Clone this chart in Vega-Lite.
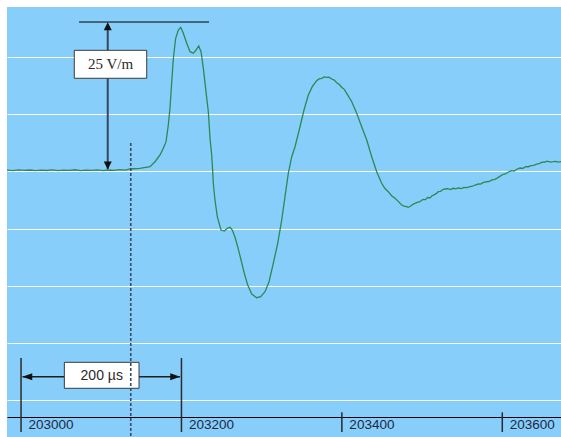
{
  "$schema": "https://vega.github.io/schema/vega-lite/v6.json",
  "autosize": "none",
  "width": 554,
  "height": 430,
  "padding": {"left": 7, "top": 7, "right": 0, "bottom": 0},
  "background": "white",
  "config": {"view": {"stroke": null, "fill": "#87CEFA"}},
  "datasets": {
    "curve": [
      {"t": 202982.5, "E": 0.2}, {"t": 202990, "E": 0.12}, {"t": 202997, "E": 0.25}, {"t": 203004, "E": 0.15},
      {"t": 203011, "E": 0.22}, {"t": 203018, "E": 0.1}, {"t": 203025, "E": 0.2}, {"t": 203032, "E": 0.14},
      {"t": 203039, "E": 0.24}, {"t": 203046, "E": 0.12}, {"t": 203053, "E": 0.2}, {"t": 203060, "E": 0.16},
      {"t": 203067, "E": 0.26}, {"t": 203074, "E": 0.13}, {"t": 203081, "E": 0.21}, {"t": 203088, "E": 0.15},
      {"t": 203095, "E": 0.24}, {"t": 203102, "E": 0.12}, {"t": 203109, "E": 0.22}, {"t": 203116, "E": 0.17},
      {"t": 203123, "E": 0.27}, {"t": 203130, "E": 0.2},
      {"t": 203135.9, "E": 0.39}, {"t": 203148, "E": 0.5}, {"t": 203160.8, "E": 0.77}, {"t": 203167.0, "E": 1.61},
      {"t": 203173.3, "E": 2.74}, {"t": 203177.4, "E": 3.86}, {"t": 203180.8, "E": 4.97}, {"t": 203183.6, "E": 7.77},
      {"t": 203185.7, "E": 10.57}, {"t": 203187.9, "E": 15.03}, {"t": 203189.9, "E": 18.96}, {"t": 203192.8, "E": 22.32},
      {"t": 203196.1, "E": 23.71}, {"t": 203199.1, "E": 24.16}, {"t": 203202.3, "E": 23.16}, {"t": 203206.6, "E": 21.48},
      {"t": 203210.7, "E": 20.07}, {"t": 203214.8, "E": 19.8}, {"t": 203218.2, "E": 20.35}, {"t": 203221.5, "E": 21.03},
      {"t": 203224.4, "E": 20.07}, {"t": 203227.3, "E": 17.28}, {"t": 203230.6, "E": 13.36}, {"t": 203233.5, "E": 10.0},
      {"t": 203235.6, "E": 5.54}, {"t": 203237.7, "E": 2.74}, {"t": 203239.0, "E": -0.07}, {"t": 203239.7, "E": -2.01},
      {"t": 203241.8, "E": -4.82}, {"t": 203244.7, "E": -7.62}, {"t": 203249.3, "E": -9.85}, {"t": 203253.4, "E": -10.02},
      {"t": 203257.2, "E": -9.56}, {"t": 203260.5, "E": -9.4}, {"t": 203263.4, "E": -9.85}, {"t": 203266.8, "E": -11.07},
      {"t": 203270.1, "E": -12.65}, {"t": 203274.3, "E": -14.88}, {"t": 203278.4, "E": -17.12}, {"t": 203282.6, "E": -19.08},
      {"t": 203287.6, "E": -20.59}, {"t": 203293.8, "E": -21.21}, {"t": 203298.8, "E": -21.04}, {"t": 203304.2, "E": -20.2},
      {"t": 203309.2, "E": -18.52}, {"t": 203314.5, "E": -15.44}, {"t": 203320.0, "E": -12.08}, {"t": 203325.0, "E": -8.17},
      {"t": 203329.1, "E": -4.26}, {"t": 203333.2, "E": -0.34}, {"t": 203337.5, "E": 2.45}, {"t": 203341.6, "E": 4.13},
      {"t": 203347.8, "E": 7.48}, {"t": 203352.8, "E": 10.29}, {"t": 203358.2, "E": 12.8}, {"t": 203363.1, "E": 14.2},
      {"t": 203368.6, "E": 15.2}, {"t": 203371.5, "E": 15.5}, {"t": 203374.9, "E": 15.61}, {"t": 203378, "E": 15.85}, {"t": 203381.1, "E": 15.77},
      {"t": 203384, "E": 15.8}, {"t": 203387.3, "E": 15.49}, {"t": 203390.5, "E": 15.3},
      {"t": 203393.6, "E": 14.87}, {"t": 203396.5, "E": 14.6}, {"t": 203399.8, "E": 14.1}, {"t": 203403, "E": 13.75}, {"t": 203406.0, "E": 13.09}, {"t": 203412.3, "E": 11.68},
      {"t": 203418.5, "E": 9.73}, {"t": 203424.7, "E": 7.48}, {"t": 203431.0, "E": 5.25}, {"t": 203437.2, "E": 2.45},
      {"t": 203443.4, "E": -0.07}, {"t": 203449.6, "E": -2.01}, {"t": 203453.5, "E": -2.85}, {"t": 203457.9, "E": -3.42}, {"t": 203462, "E": -4.1}, {"t": 203466.2, "E": -4.53},
      {"t": 203470, "E": -5.0}, {"t": 203474.6, "E": -5.65}, {"t": 203477.5, "E": -5.85}, {"t": 203480.8, "E": -5.94}, {"t": 203482.5, "E": -6.05}, {"t": 203484.9, "E": -5.9}, {"t": 203487, "E": -5.7}, {"t": 203489.0, "E": -5.49},
      {"t": 203491.2, "E": -5.37}, {"t": 203494, "E": -5.2}, {"t": 203497.4, "E": -5.1}, {"t": 203499.5, "E": -4.85},
      {"t": 203501.5, "E": -4.7}, {"t": 203504, "E": -4.75}, {"t": 203507, "E": -4.4}, {"t": 203510, "E": -4.45},
      {"t": 203512, "E": -4.14}, {"t": 203515, "E": -3.95}, {"t": 203518, "E": -3.7}, {"t": 203520.2, "E": -3.42},
      {"t": 203523, "E": -3.35}, {"t": 203526, "E": -3.05}, {"t": 203528.6, "E": -2.97}, {"t": 203532, "E": -2.9},
      {"t": 203535, "E": -3.05}, {"t": 203538.9, "E": -2.85}, {"t": 203542, "E": -2.95}, {"t": 203545, "E": -2.8},
      {"t": 203549.4, "E": -2.9}, {"t": 203552, "E": -2.7}, {"t": 203556, "E": -2.75}, {"t": 203559.7, "E": -2.58},
      {"t": 203563, "E": -2.5}, {"t": 203566, "E": -2.3}, {"t": 203570.1, "E": -2.13}, {"t": 203573, "E": -2.15},
      {"t": 203576, "E": -1.9}, {"t": 203580.5, "E": -1.75}, {"t": 203584, "E": -1.7}, {"t": 203587, "E": -1.45},
      {"t": 203590.9, "E": -1.34}, {"t": 203594, "E": -1.1}, {"t": 203597, "E": -0.85}, {"t": 203601.2, "E": -0.5},
      {"t": 203604, "E": -0.45}, {"t": 203607, "E": -0.15}, {"t": 203611.7, "E": 0.1}, {"t": 203615, "E": 0.05},
      {"t": 203618, "E": 0.35}, {"t": 203622.1, "E": 0.55}, {"t": 203626, "E": 0.5}, {"t": 203629, "E": 0.8},
      {"t": 203632.4, "E": 0.77}, {"t": 203636, "E": 0.95}, {"t": 203639, "E": 1.0}, {"t": 203642.9, "E": 1.22},
      {"t": 203646, "E": 1.3}, {"t": 203649, "E": 1.5}, {"t": 203653.2, "E": 1.56}, {"t": 203656, "E": 1.7},
      {"t": 203660, "E": 1.55}, {"t": 203663.6, "E": 1.61}, {"t": 203667, "E": 1.68}, {"t": 203670, "E": 1.55},
      {"t": 203673.2, "E": 1.61}
    ]
  },
  "layer": [
    {
      "data": {"name": "curve"},
      "mark": {"type": "line", "color": "#2b8a52", "strokeWidth": 1.3, "clip": true},
      "encoding": {
        "x": {
          "field": "t", "type": "quantitative",
          "scale": {"domain": [202982.5, 203673.2], "nice": false, "zero": false},
          "axis": {
            "title": null, "values": [203000, 203200, 203400, 203600], "format": "d",
            "offset": -20, "ticks": false, "tickSize": 0, "grid": false, "labelFlush": false,
            "domainColor": "#000000", "domainWidth": 1,
            "labelAlign": "left", "labelBaseline": "middle", "labelPadding": 7, "labelOffset": 7,
            "labelFont": "Liberation Sans", "labelFontSize": 13.5, "labelColor": "#1f2742"
          }
        },
        "y": {
          "field": "E", "type": "quantitative",
          "scale": {"domain": [-44.58, 27.57], "nice": false, "zero": false},
          "axis": {
            "title": null, "values": [19.2, 9.6, 0, -9.6, -19.2, -28.8, -38.4],
            "grid": true, "gridColor": "#ffffff", "gridWidth": 1, "gridOpacity": 1,
            "domain": false, "ticks": false, "labels": false
          }
        }
      }
    },
    {
      "data": {"values": [
        {"t": 203000, "top": -31.33, "bot": -43.75},
        {"t": 203200, "top": -31.33, "bot": -43.75},
        {"t": 203400, "top": -40.44, "bot": -43.75},
        {"t": 203600, "top": -40.44, "bot": -43.75}
      ]},
      "mark": {"type": "rule", "color": "#2b2b2b", "strokeWidth": 1.5},
      "encoding": {
        "x": {"field": "t", "type": "quantitative"},
        "y": {"field": "top", "type": "quantitative"},
        "y2": {"field": "bot"}
      }
    },
    {
      "data": {"values": [
        {"x1": 203072.3, "x2": 203234.4, "y": 25.05}
      ]},
      "mark": {"type": "rule", "color": "#000000", "strokeWidth": 1},
      "encoding": {
        "x": {"field": "x1", "type": "quantitative"},
        "x2": {"field": "x2"},
        "y": {"field": "y", "type": "quantitative"}
      }
    },
    {
      "data": {"values": [
        {"t": 203108.1, "a": 0.4, "b": 24.0}
      ]},
      "mark": {"type": "rule", "color": "#34495a", "strokeWidth": 2},
      "encoding": {
        "x": {"field": "t", "type": "quantitative"},
        "y": {"field": "a", "type": "quantitative"},
        "y2": {"field": "b"}
      }
    },
    {
      "data": {"values": [
        {"x1": 203002, "x2": 203198, "y": -34.47}
      ]},
      "mark": {"type": "rule", "color": "#1e1e1e", "strokeWidth": 1.5},
      "encoding": {
        "x": {"field": "x1", "type": "quantitative"},
        "x2": {"field": "x2"},
        "y": {"field": "y", "type": "quantitative"}
      }
    },
    {
      "data": {"values": [{"t": 203108.1, "E": 25.0}]},
      "mark": {"type": "point", "filled": true, "size": 64, "opacity": 1, "color": "#111111", "shape": "M0,0L1,2L-1,2Z"},
      "encoding": {
        "x": {"field": "t", "type": "quantitative"},
        "y": {"field": "E", "type": "quantitative"}
      }
    },
    {
      "data": {"values": [{"t": 203108.1, "E": 0.3}]},
      "mark": {"type": "point", "filled": true, "size": 64, "opacity": 1, "color": "#111111", "shape": "M0,0L1,-2L-1,-2Z"},
      "encoding": {
        "x": {"field": "t", "type": "quantitative"},
        "y": {"field": "E", "type": "quantitative"}
      }
    },
    {
      "data": {"values": [{"t": 203001.5, "E": -34.47}]},
      "mark": {"type": "point", "filled": true, "size": 100, "opacity": 1, "color": "#111111", "shape": "M0,0L2,-0.7L2,0.7Z"},
      "encoding": {
        "x": {"field": "t", "type": "quantitative"},
        "y": {"field": "E", "type": "quantitative"}
      }
    },
    {
      "data": {"values": [{"t": 203198.5, "E": -34.47}]},
      "mark": {"type": "point", "filled": true, "size": 100, "opacity": 1, "color": "#111111", "shape": "M0,0L-2,-0.7L-2,0.7Z"},
      "encoding": {
        "x": {"field": "t", "type": "quantitative"},
        "y": {"field": "E", "type": "quantitative"}
      }
    },
    {
      "data": {"values": [
        {"x1": 203066.4, "x2": 203156.7, "y1": 20.3, "y2": 15.61},
        {"x1": 203054.0, "x2": 203147.1, "y1": -32.05, "y2": -36.41}
      ]},
      "mark": {"type": "rect", "fill": "#ffffff", "stroke": "#3a3a3a", "strokeWidth": 1},
      "encoding": {
        "x": {"field": "x1", "type": "quantitative"},
        "x2": {"field": "x2"},
        "y": {"field": "y1", "type": "quantitative"},
        "y2": {"field": "y2"}
      }
    },
    {
      "data": {"values": [{"label": "25 V/m", "tx": 203111.6, "ty": 17.95}]},
      "mark": {"type": "text", "align": "center", "baseline": "middle", "color": "#2a2a2a", "font": "Liberation Serif", "fontSize": 15},
      "encoding": {
        "x": {"field": "tx", "type": "quantitative"},
        "y": {"field": "ty", "type": "quantitative"},
        "text": {"field": "label"}
      }
    },
    {
      "data": {"values": [{"label": "200 µs", "tx": 203100.6, "ty": -34.3}]},
      "mark": {"type": "text", "align": "center", "baseline": "middle", "color": "#2a2a2a", "font": "Liberation Sans", "fontSize": 14},
      "encoding": {
        "x": {"field": "tx", "type": "quantitative"},
        "y": {"field": "ty", "type": "quantitative"},
        "text": {"field": "label"}
      }
    },
    {
      "data": {"values": [
        {"t": 203136.8, "a": 4.75, "b": -44.58}
      ]},
      "mark": {"type": "rule", "color": "#3c4c5e", "strokeWidth": 1.6, "strokeDash": [3, 2]},
      "encoding": {
        "x": {"field": "t", "type": "quantitative"},
        "y": {"field": "a", "type": "quantitative"},
        "y2": {"field": "b"}
      }
    }
  ]
}
